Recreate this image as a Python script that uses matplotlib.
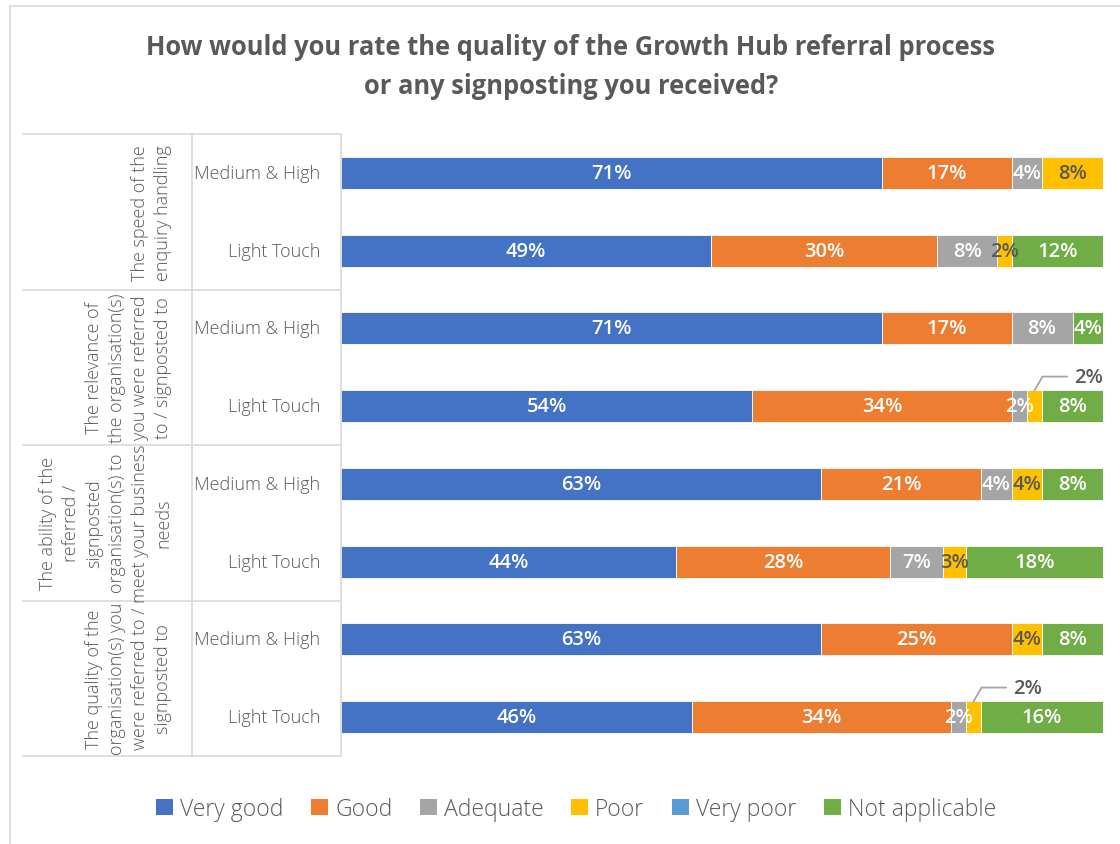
import numpy as np
import matplotlib
matplotlib.use("Agg")
import matplotlib.pyplot as plt
from matplotlib.lines import Line2D
from matplotlib.patches import Patch
from matplotlib.transforms import blended_transform_factory

plt.rcParams['font.family'] = ['Open Sans', 'DejaVu Sans']

title = "How would you rate the quality of the Growth Hub referral process\nor any signposting you received?"
groups = [
    "The speed of the\nenquiry handling",
    "The relevance of\nthe organisation(s)\nyou were referred\nto / signposted to",
    "The ability of the\nreferred /\nsignposted\norganisation(s) to\nmeet your business\nneeds",
    "The quality of the\norganisation(s) you\nwere referred to /\nsignposted to",
]
segments = ["Medium & High", "Light Touch"]
series = ["Very good", "Good", "Adequate", "Poor", "Very poor", "Not applicable"]
colors = ["#4472C4", "#ED7D31", "#A5A5A5", "#FFC000", "#5B9BD5", "#70AD47"]

# % per row, top to bottom (group x segment)
very_good = [71, 49, 71, 54, 63, 44, 63, 46]
good      = [17, 30, 17, 34, 21, 28, 25, 34]
adequate  = [4, 8, 8, 2, 4, 7, 0, 2]
poor      = [8, 2, 0, 2, 4, 3, 4, 2]
very_poor = [0, 0, 0, 0, 0, 0, 0, 0]
not_appl  = [0, 12, 4, 8, 8, 18, 8, 16]

values = np.array([very_good, good, adequate, poor, very_poor, not_appl], dtype=float)
shares = values / values.sum(axis=0) * 100  # 100% stacked
n = values.shape[1]
ypos = np.arange(n)

W, H = 1120, 845
fig = plt.figure(figsize=(W / 100, H / 100), dpi=100)
ax = fig.add_axes([341 / W, 1 - 757 / H, (1103 - 341) / W, (757 - 135) / H])

txt = "#595959"
grid = "#D9D9D9"

left = np.zeros(n)
for k, name in enumerate(series):
    ax.barh(ypos, shares[k], left=left, height=0.41, color=colors[k],
            edgecolor="white", linewidth=0.6, label=name)
    for i in range(n):
        v = values[k, i]
        if v <= 0:
            continue
        lab_col = txt if name == "Poor" else "white"
        cx = left[i] + shares[k, i] / 2
        if name == "Poor" and segments[i % 2] == "Light Touch" and adequate[i] == 2:
            # small slice: label sits above the bar with a leader line
            ax.annotate(f"{v:.0f}%", xy=(cx, i - 0.2), xytext=(cx + 5.2, i - 0.38),
                        textcoords="data", ha="left", va="center", fontsize=14.5,
                        fontweight="semibold", color=txt,
                        arrowprops=dict(arrowstyle="-", color="#A5A5A5", lw=1.3,
                                        shrinkA=3, shrinkB=0,
                                        connectionstyle="angle,angleA=0,angleB=60,rad=0"))
            continue
        ax.text(cx, i, f"{v:.0f}%", ha="center", va="center", fontsize=14.5,
                fontweight="semibold", color=lab_col)
    left += shares[k]

ax.set_xlim(0, 100)
ax.set_ylim(n - 0.5, -0.5)
ax.set_xticks([])
ax.set_yticks([])
for s in ["top", "right", "bottom"]:
    ax.spines[s].set_visible(False)
ax.spines["left"].set_color(grid)
ax.spines["left"].set_linewidth(1.2)

# category table on the left
tr = blended_transform_factory(fig.transFigure, ax.transData)
for b in np.arange(-0.5, n, 2):
    fig.add_artist(Line2D([23 / W, 340 / W], [b, b], transform=tr, color=grid, lw=1.2))
fig.add_artist(Line2D([192 / W, 192 / W], [-0.5, n - 0.5], transform=tr, color=grid, lw=1.2))

for i in range(n):
    fig.text(320 / W, i, segments[i % 2], transform=tr, ha="right", va="center",
             fontsize=13, fontweight="light", color=txt)
for g, label in enumerate(groups):
    fig.text(172 / W, 2 * g + 0.5, label, transform=tr, rotation=90, ha="right",
             va="center", multialignment="center", fontsize=13, fontweight="light",
             color=txt, linespacing=1.35)

# chart frame
fig.add_artist(Line2D([10 / W, 1], [1 - 7 / H, 1 - 7 / H], color=grid, lw=1.2))
fig.add_artist(Line2D([10 / W, 10 / W], [0, 1 - 7 / H], color=grid, lw=1.2))

fig.text(571 / W, 1 - 67 / H, title, ha="center", va="center", fontsize=18.4,
         fontweight="bold", color=txt, linespacing=1.55)

handles = [Patch(facecolor=c, edgecolor="none") for c in colors]
fig.legend(handles, series, loc="center", bbox_to_anchor=(576 / W, 1 - 810 / H),
           ncol=6, frameon=False, labelcolor=txt,
           prop=dict(size=16.5, weight="light"),
           handlelength=0.75, handleheight=0.75, handletextpad=0.3, columnspacing=1.2)

fig.savefig("out.png", dpi=100)
